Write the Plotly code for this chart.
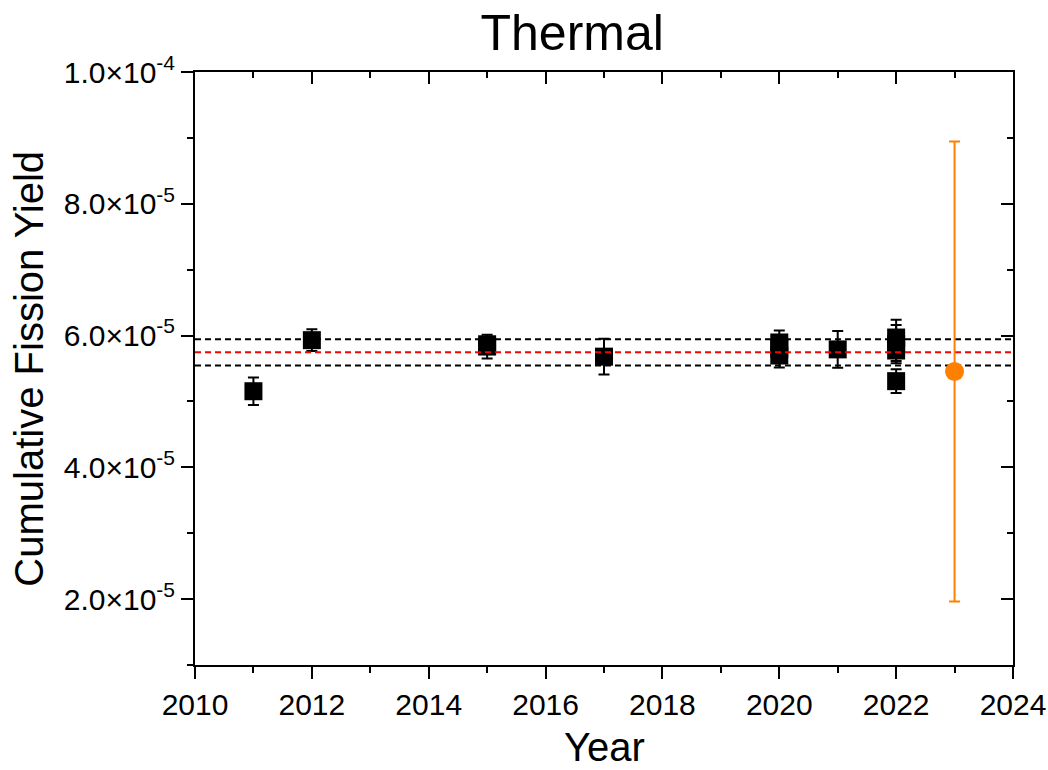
import plotly.graph_objects as go

# Literature cumulative fission yields (black squares)
years = [2011, 2012, 2015, 2015, 2017, 2020, 2020, 2020, 2021, 2022, 2022, 2022, 2022]
yields = [5.155e-5, 5.93e-5, 5.868e-5, 5.833e-5, 5.68e-5, 5.895e-5, 5.80e-5, 5.697e-5,
          5.79e-5, 5.97e-5, 5.87e-5, 5.773e-5, 5.308e-5]
errors = [0.21e-5, 0.165e-5, 0.10e-5, 0.18e-5, 0.27e-5, 0.18e-5, 0.15e-5, 0.18e-5,
          0.28e-5, 0.27e-5, 0.29e-5, 0.16e-5, 0.18e-5]

# This work (orange circle)
new_year = [2023]
new_yield = [5.455e-5]
new_error = [3.49e-5]

# Weighted mean and its uncertainty band
mean_value = 5.745e-5
mean_error = 0.20e-5
x_span = [2010, 2024]

FONT = "Liberation Sans, Arial, sans-serif"
ORANGE = "#FF8000"
TICK_SIZE = 30

y_tickvals = [2e-5, 4e-5, 6e-5, 8e-5, 1e-4]
y_ticktext = ["2.0×10<sup>-5</sup>", "4.0×10<sup>-5</sup>", "6.0×10<sup>-5</sup>",
              "8.0×10<sup>-5</sup>", "1.0×10<sup>-4</sup>"]
x_tickvals = [2010, 2012, 2014, 2016, 2018, 2020, 2022, 2024]

fig = go.Figure()

fig.add_trace(go.Scatter(
    x=years, y=yields, mode="markers",
    marker=dict(symbol="square", size=18, color="black"),
    error_y=dict(type="data", array=errors, visible=True, color="black",
                 thickness=2, width=5.5),
    showlegend=False,
))

for val, col in [(mean_value + mean_error, "black"),
                 (mean_value - mean_error, "black"),
                 (mean_value, "red")]:
    fig.add_trace(go.Scatter(
        x=x_span, y=[val, val], mode="lines",
        line=dict(color=col, width=2, dash="6px,4px"),
        showlegend=False, hoverinfo="skip",
    ))

fig.add_trace(go.Scatter(
    x=new_year, y=new_yield, mode="markers",
    marker=dict(symbol="circle", size=19, color=ORANGE),
    error_y=dict(type="data", array=new_error, visible=True, color=ORANGE,
                 thickness=2, width=5.5),
    showlegend=False,
))

axis_common = dict(showline=True, linecolor="black", linewidth=2,
                   showgrid=False, zeroline=False, automargin=False)

fig.update_layout(
    width=1048, height=770,
    margin=dict(l=195, r=35, t=72, b=105),
    paper_bgcolor="white", plot_bgcolor="white",
    font=dict(family=FONT, color="black", size=TICK_SIZE),
    title=dict(text="Thermal", x=0.546, xanchor="center", y=0.958, yanchor="middle",
               font=dict(family=FONT, size=50, color="black")),
    xaxis=dict(
        **axis_common, range=[2010, 2024], tickvals=x_tickvals,
        ticks="outside", ticklen=12, tickwidth=2, tickcolor="black",
        tickfont=dict(family=FONT, size=TICK_SIZE, color="black"),
        minor=dict(dtick=1, tick0=2010, ticks="outside", ticklen=6, tickwidth=2,
                   tickcolor="black"),
    ),
    yaxis=dict(
        **axis_common, range=[1e-5, 1e-4], tickvals=y_tickvals, ticktext=y_ticktext,
        ticks="outside", ticklen=12, tickwidth=2, tickcolor="black",
        tickfont=dict(family=FONT, size=TICK_SIZE, color="black"),
        minor=dict(dtick=1e-5, tick0=1e-5, ticks="outside", ticklen=6, tickwidth=2,
                   tickcolor="black"),
    ),
    xaxis2=dict(
        **axis_common, overlaying="x", matches="x", side="top", range=[2010, 2024],
        tickvals=x_tickvals, showticklabels=False,
        ticks="inside", ticklen=12, tickwidth=2, tickcolor="black",
        minor=dict(dtick=1, tick0=2010, ticks="inside", ticklen=6, tickwidth=2,
                   tickcolor="black"),
    ),
    yaxis2=dict(
        **axis_common, overlaying="y", matches="y", side="right", range=[1e-5, 1e-4],
        tickvals=y_tickvals, showticklabels=False,
        ticks="inside", ticklen=12, tickwidth=2, tickcolor="black",
        minor=dict(dtick=1e-5, tick0=1e-5, ticks="inside", ticklen=6, tickwidth=2,
                   tickcolor="black"),
    ),
    annotations=[
        dict(text="Year", xref="paper", yref="paper", x=0.5, y=-0.138,
             xanchor="center", yanchor="middle", showarrow=False,
             font=dict(family=FONT, size=40, color="black")),
        dict(text="Cumulative Fission Yield", xref="paper", yref="paper",
             x=-0.204, y=0.5, xanchor="center", yanchor="middle", textangle=-90,
             showarrow=False, font=dict(family=FONT, size=40, color="black")),
    ],
)

# Empty trace so the mirrored top/right axes are drawn
fig.add_trace(go.Scatter(x=[None], y=[None], xaxis="x2", yaxis="y2",
                         showlegend=False, hoverinfo="skip"))

fig.write_html("out.html")
